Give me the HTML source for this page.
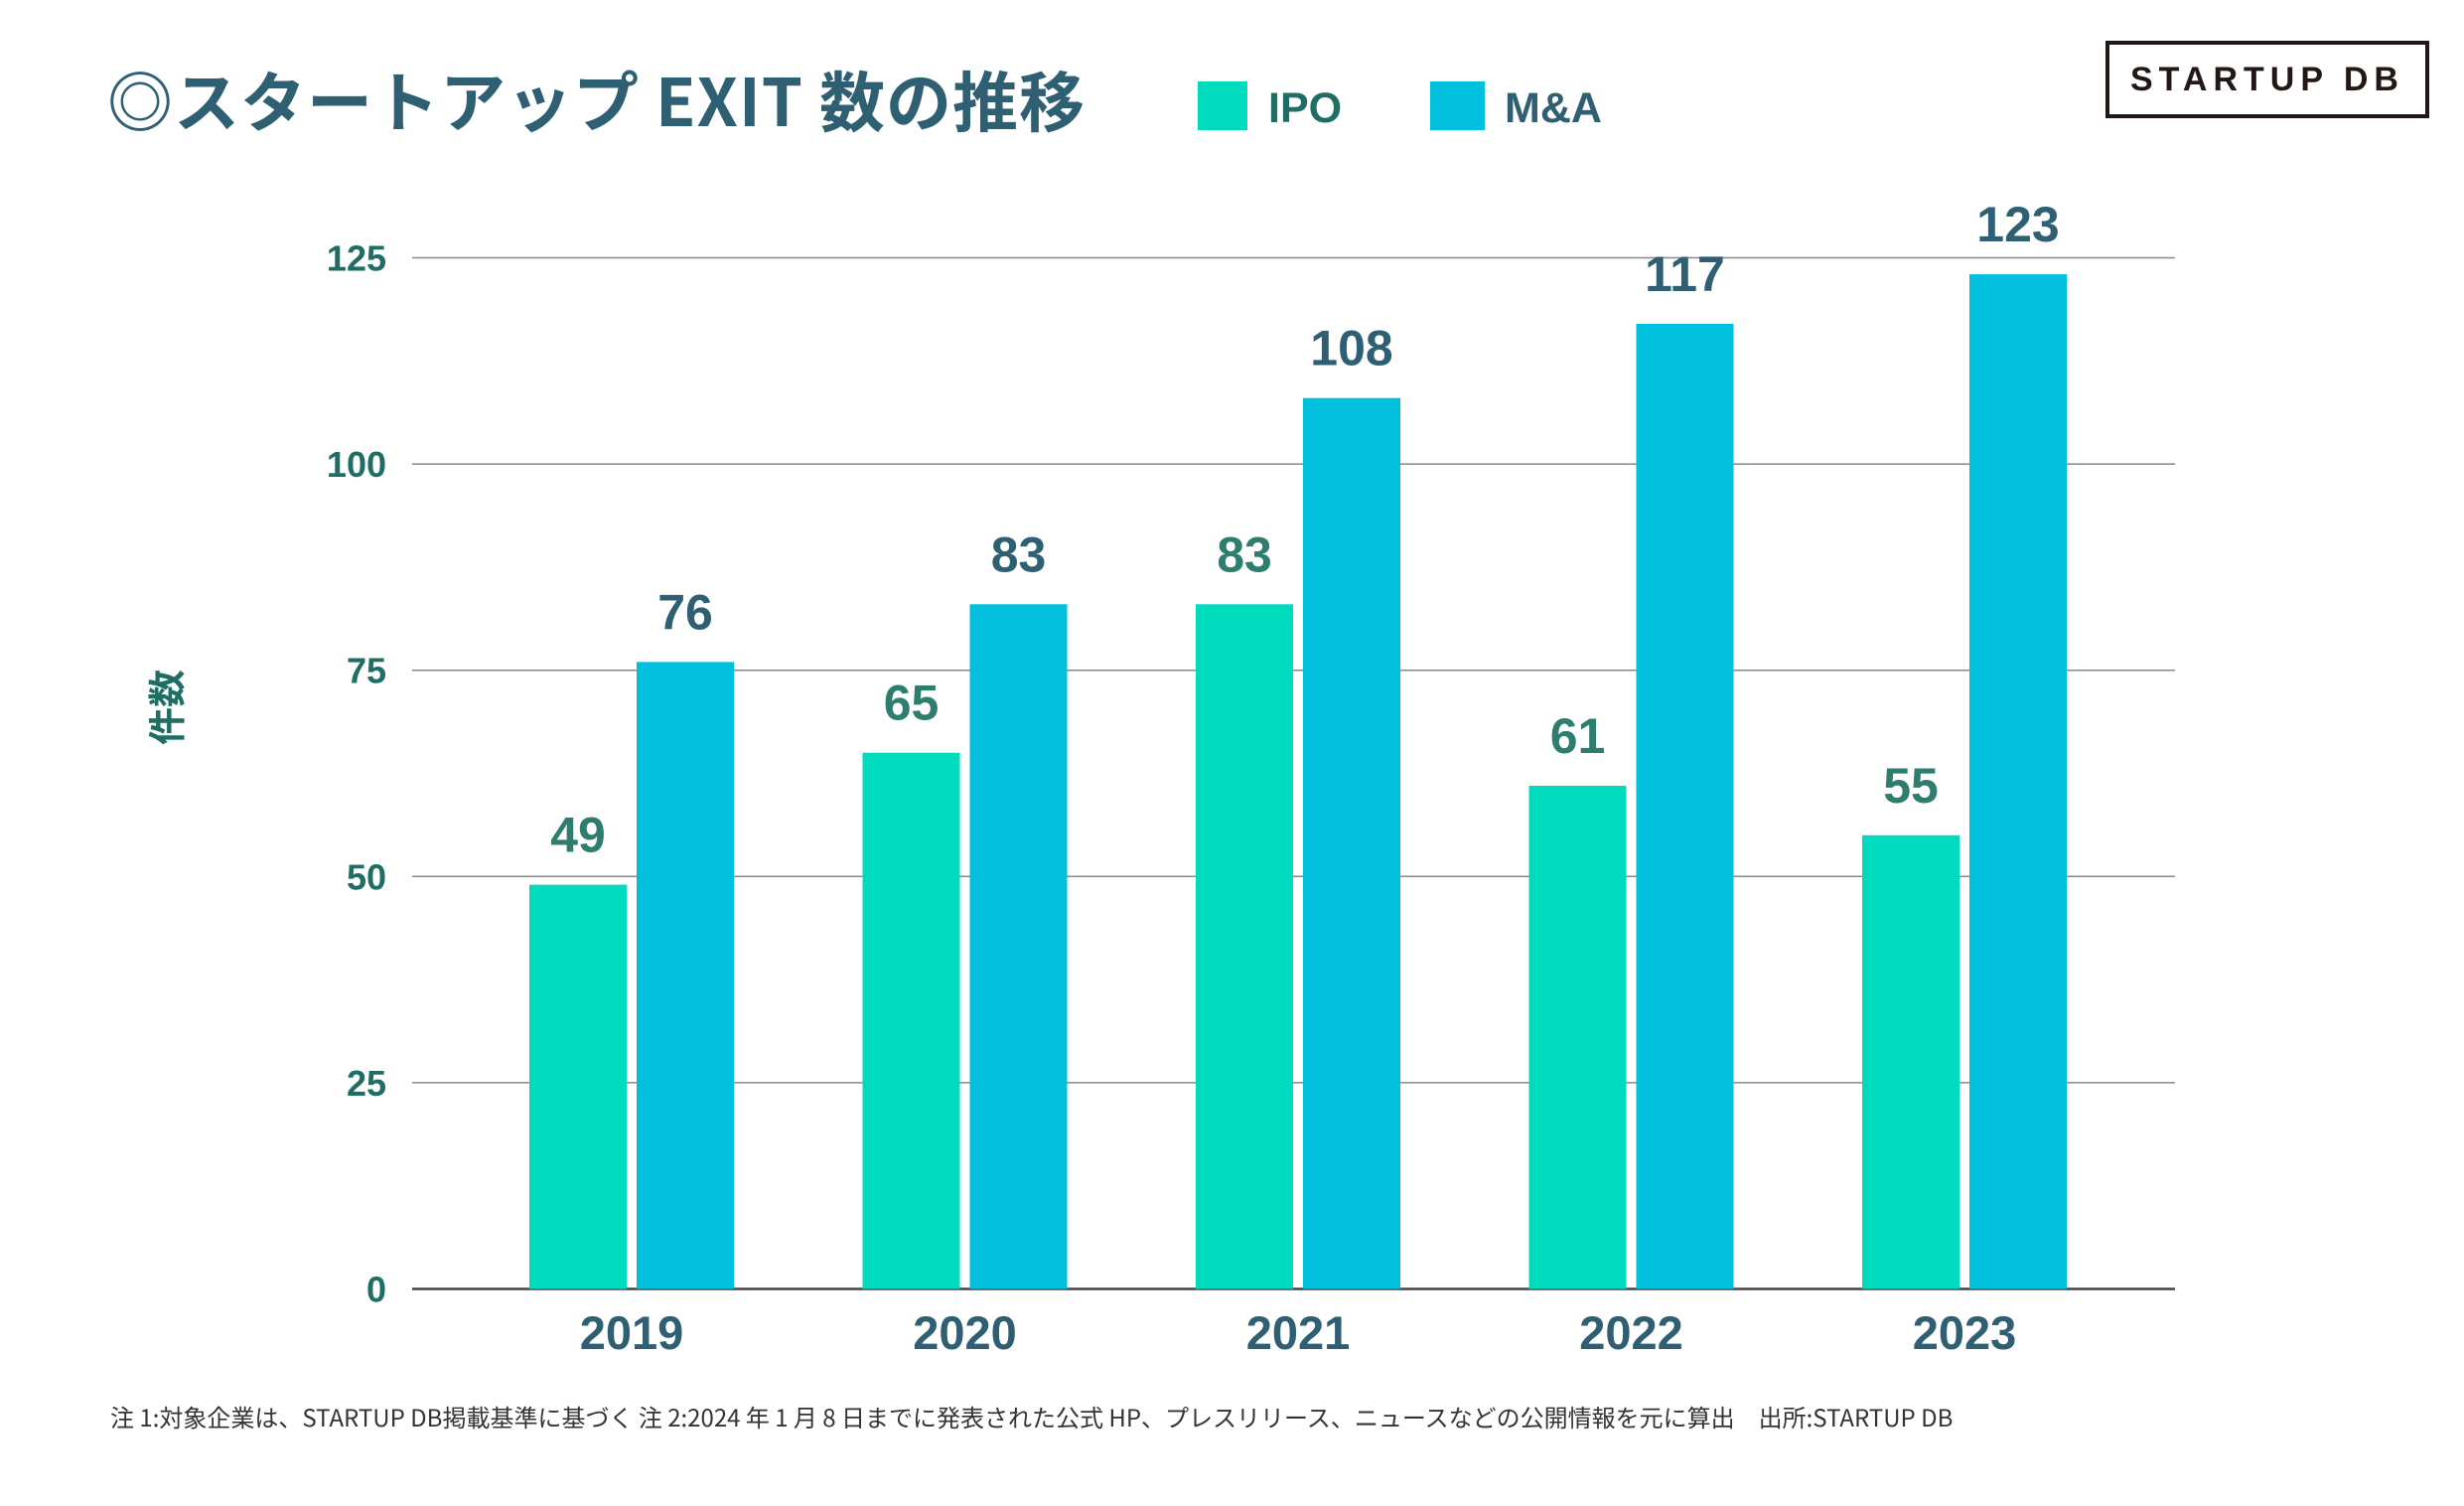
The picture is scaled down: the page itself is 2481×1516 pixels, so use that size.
<!DOCTYPE html>
<html><head><meta charset="utf-8">
<style>
html,body{margin:0;padding:0;background:#fff;}
body{width:2481px;height:1516px;position:relative;overflow:hidden;font-family:"Liberation Sans","Noto Sans CJK JP",sans-serif;}
.t{position:absolute;white-space:nowrap;}
</style></head>
<body>
<div class="t" style="left:108px;top:56px;font-size:66px;letter-spacing:1px;font-weight:bold;color:#2f5f72;font-family:'Noto Sans CJK JP','Liberation Sans',sans-serif;line-height:86px;">◎スタートアップ EXIT 数の推移</div>
<div style="position:absolute;left:1206px;top:82px;width:50px;height:49px;background:#00dbbd;"></div>
<div class="t" style="left:1277px;top:82px;font-size:43px;font-weight:bold;color:#1f6e63;line-height:54px;">IPO</div>
<div style="position:absolute;left:1440px;top:82px;width:55px;height:49px;background:#00c0de;"></div>
<div class="t" style="left:1515px;top:82px;font-size:43px;font-weight:bold;color:#2f5f72;line-height:54px;">M&amp;A</div>
<div style="position:absolute;left:2120px;top:41px;width:318px;height:70px;border:4px solid #231815;display:flex;align-items:center;justify-content:center;font-size:34px;font-weight:bold;letter-spacing:6px;color:#231815;">STARTUP DB</div>
<div class="t" style="left:128px;top:690px;font-size:38px;font-weight:bold;color:#1f6e63;transform:rotate(-90deg);transform-origin:center;font-family:'Noto Sans CJK JP',sans-serif;line-height:44px;">件数</div>
<svg id="chart" width="2481" height="1516" style="position:absolute;left:0;top:0;"></svg>
<div class="t" style="left:111px;top:1408px;font-size:24px;color:#333;font-family:'Noto Sans CJK JP','Liberation Sans',sans-serif;">注 1:対象企業は、STARTUP DB掲載基準に基づく 注 2:2024 年 1 月 8 日までに発表された公式 HP、プレスリリース、ニュースなどの公開情報を元に算出　出所:STARTUP DB</div>
<script>
const categories=["2019","2020","2021","2022","2023"];
const ipoValues=[49,65,83,61,55];
const maValues=[76,83,108,117,123];
const yTicks=[0,25,50,75,100,125];
const svg=document.getElementById('chart');
const NS='http://www.w3.org/2000/svg';
const x0=415,x1=2190,yZero=1297.5,yTop=259.5,yMax=125;
function y(v){return yZero-(v/yMax)*(yZero-yTop);}
function groupX(i){return 533+i*335.5;}
function mk(tag,attrs){const e=document.createElementNS(NS,tag);for(const k in attrs)e.setAttribute(k,attrs[k]);svg.appendChild(e);return e;}
yTicks.forEach(t=>{
  const l=mk('line',{x1:x0,x2:x1,y1:y(t),y2:y(t),stroke:t===0?'#444':'#888','stroke-width':t===0?2.5:1.5});
  
  
  const tx=mk('text',{x:389,y:y(t)+13,'text-anchor':'end','font-size':36,'font-weight':'bold',fill:'#1f6e63','font-family':'Liberation Sans, sans-serif'});
  tx.textContent=t;
  
  
});
categories.forEach((c,i)=>{
  const gx=groupX(i),w=98;
  [[ipoValues[i],gx,'#00dbbd','#2e7d6e','ipo'],[maValues[i],gx+108,'#00c0de','#2f5f72','ma']].forEach(s=>{
    const [v,bx,col,lc,nm]=s;
    const r=mk('rect',{x:bx,y:y(v),width:w,height:yZero-y(v),fill:col});
    
    
    const t=mk('text',{x:bx+w/2,y:y(v)-33,'text-anchor':'middle','font-size':50,'font-weight':'bold',fill:lc,'font-family':'Liberation Sans, sans-serif'});
    t.textContent=v;
    
    
  });
  const ct=mk('text',{x:gx+103,y:1358,'text-anchor':'middle','font-size':47,'font-weight':'bold',fill:'#2f5f72','font-family':'Liberation Sans, sans-serif'});
  ct.textContent=c;
  
  
});
</script>
</body></html>
